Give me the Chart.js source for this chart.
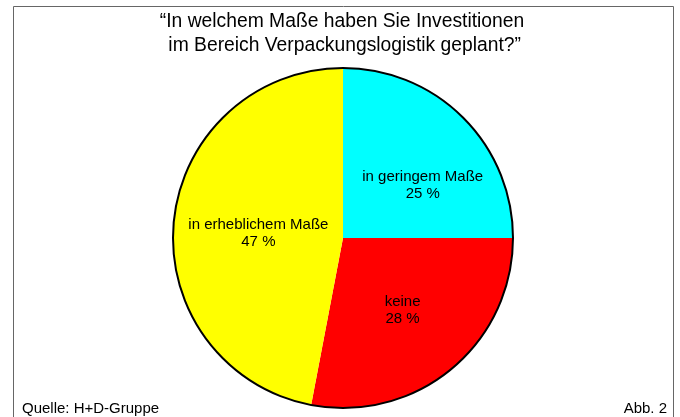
<!DOCTYPE html>
<html>
<head>
<meta charset="utf-8">
<script src="https://cdn.jsdelivr.net/npm/chart.js@4"></script>
<style>
  html, body { margin:0; padding:0; background:#fff; }
  #wrap { width:680px; height:417px; position:relative; }
</style>
</head>
<body>
<div id="wrap"><canvas id="pie" width="680" height="417"></canvas></div>
<script>
const categories = ['in geringem Maße', 'keine', 'in erheblichem Maße'];
const shares = [25, 28, 47]; // %
const sliceColors = ['#00ffff', '#ff0000', '#ffff00'];
const titleLines = ['“In welchem Maße haben Sie Investitionen', ' im Bereich Verpackungslogistik geplant?”'];
const source = 'Quelle: H+D-Gruppe';
const figNo = 'Abb. 2';

const FONT = 'Arial, "Liberation Sans", Helvetica, sans-serif';
// small nudges so labels sit where the original has them
const labelR = [0.58, 0.55, 0.5];
const labelNudge = [[10, 17], [0, 0], [0, 3]];

const decor = {
  id: 'decor',
  beforeDraw(chart) {
    const c = chart.ctx;
    c.save();
    c.fillStyle = '#fff';
    c.fillRect(0, 0, chart.width, chart.height);
    // frame
    c.strokeStyle = '#666';
    c.lineWidth = 1;
    c.beginPath();
    c.moveTo(13.5, 420); c.lineTo(13.5, 6.5); c.lineTo(673.5, 6.5); c.lineTo(673.5, 420);
    c.stroke();
    c.restore();
  },
  afterDatasetsDraw(chart) {
    const c = chart.ctx;
    const arcs = chart.getDatasetMeta(0).data;
    c.save();
    // outer outline only
    const a0 = arcs[0];
    c.strokeStyle = '#000';
    c.lineWidth = 2;
    c.beginPath();
    c.arc(a0.x, a0.y, a0.outerRadius, 0, Math.PI * 2);
    c.stroke();

    c.fillStyle = '#000';
    c.textAlign = 'center';
    c.textBaseline = 'middle';
    c.font = '15px ' + FONT;
    arcs.forEach((a, i) => {
      const mid = (a.startAngle + a.endAngle) / 2;
      const r = a.outerRadius * labelR[i];
      const x = a.x + Math.cos(mid) * r + labelNudge[i][0];
      const y = a.y + Math.sin(mid) * r + labelNudge[i][1];
      c.fillText(categories[i], x, y - 8.5);
      c.fillText(shares[i] + ' %', x, y + 8.5);
    });

    // title
    c.font = '19.3px ' + FONT;
    c.fillText(titleLines[0], 342, 22);
    c.fillText(titleLines[1], 342, 46);

    // footer
    c.font = '15px ' + FONT;
    c.textAlign = 'left';
    c.fillText(source, 22, 409);
    c.textAlign = 'right';
    c.fillText(figNo, 667, 409);
    c.restore();
  }
};

new Chart(document.getElementById('pie'), {
  type: 'pie',
  data: {
    labels: categories,
    datasets: [{
      data: shares,
      backgroundColor: sliceColors,
      borderWidth: 0,
      hoverOffset: 0,
      offset: 0
    }]
  },
  options: {
    responsive: false,
    animation: false,
    events: [],
    layout: { padding: { top: 68, bottom: 9, left: 6, right: 0 } },
    plugins: { legend: { display: false }, tooltip: { enabled: false }, title: { display: false } }
  },
  plugins: [decor]
});
</script>
</body>
</html>
